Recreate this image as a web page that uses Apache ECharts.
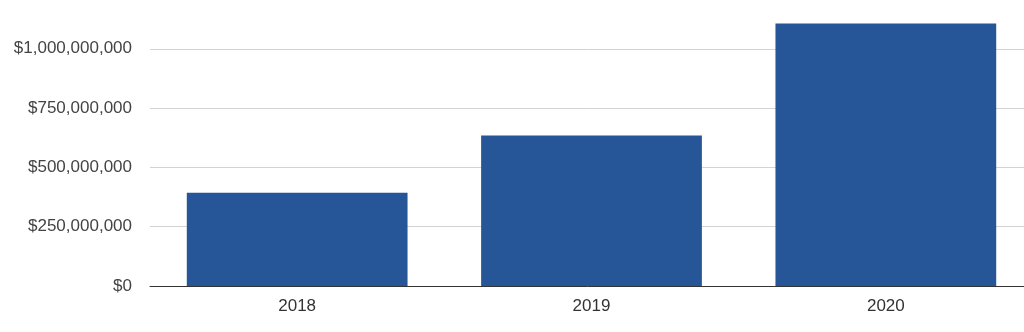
<!DOCTYPE html>
<html><head><meta charset="utf-8">
<script src="https://cdn.jsdelivr.net/npm/echarts@6/dist/echarts.min.js"></script>
<style>html,body{margin:0;padding:0;background:#fff}#c{width:1024px;height:332px}</style>
</head><body><div id="c"></div>
<script>
const categories = ['2018', '2019', '2020'];
const values = [393000000, 635000000, 1107000000];
const yMax = 1250000000;
const yInterval = 250000000;

function fmt(v){ return '$' + Math.round(v).toString().replace(/\B(?=(\d{3})+(?!\d))/g, ','); }

const chart = echarts.init(document.getElementById('c'), null, {renderer:'canvas'});
chart.setOption({
  animation:false,
  backgroundColor:'#fff',
  grid:{left:150, right:-9, top:-10.5, bottom:46, containLabel:false, outerBoundsMode:'none'},
  xAxis:{type:'category', data:categories,
    axisLine:{lineStyle:{color:'#333', width:1}},
    axisTick:{show:false},
    axisLabel:{color:'#333', fontSize:17, fontFamily:'Liberation Sans, Arial, sans-serif', margin:12}},
  yAxis:{type:'value', min:0, max:yMax, interval:yInterval,
    axisLine:{show:false}, axisTick:{show:false},
    splitLine:{lineStyle:{color:'#d3d3d3', width:1}},
    axisLabel:{color:'#444', fontSize:17, fontFamily:'Liberation Sans, Arial, sans-serif', margin:18,
      formatter:function(v){ return v >= yMax ? '' : fmt(v); }}},
  series:[{type:'bar', data:values, barCategoryGap:'25%',
    itemStyle:{color:'#265598'}}]
});
</script></body></html>
